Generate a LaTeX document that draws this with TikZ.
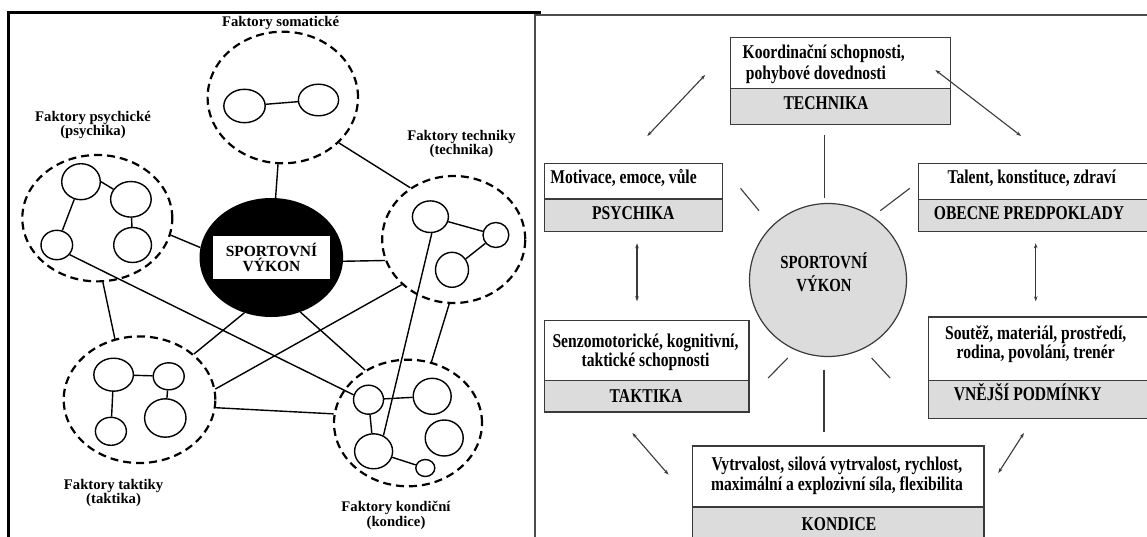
\documentclass[tikz,border=0pt]{standalone}
\usepackage{fontspec}
\setmainfont{Liberation Serif}
\newfontfamily\rfont[FakeStretch=0.8]{Liberation Serif}
\usetikzlibrary{shapes.geometric,arrows.meta}
\definecolor{boxgray}{HTML}{DCDCDC}
\definecolor{lineg}{HTML}{3A3A3A}
\tikzset{
  sz/.style 2 args={minimum width=#1,minimum height=#2},
  dcirc/.style={ellipse,draw,line width=2.2pt,dash pattern=on 8pt off 5pt,inner sep=0pt},
  icirc/.style={ellipse,draw,line width=1.4pt,inner sep=0pt},
  conn/.style={line width=1.4pt},
  llbl/.style={font=\bfseries\fontsize{14.7}{14}\selectfont,align=center,inner sep=0pt},
  rtxt/.style={font=\rfont\bfseries\fontsize{19.5}{20}\selectfont,inner sep=0pt,anchor=base},
  wbox/.style={rectangle,draw=lineg,line width=1.3pt,fill=white,inner sep=0pt,anchor=north west},
  gbox/.style={rectangle,draw=lineg,line width=1.3pt,fill=boxgray,inner sep=0pt,anchor=north west},
  ray/.style={draw=lineg,line width=1.1pt},
  darr/.style={draw=lineg,line width=1.1pt,{Stealth[length=5pt,width=3.5pt]}-{Stealth[length=5pt,width=3.5pt]}}
}
\begin{document}
\begin{tikzpicture}[x=1pt,y=-1pt]
\useasboundingbox (0,0) rectangle (1147,537);
\clip (0,0) rectangle (1147,537);

% ---------------- left panel ----------------
\draw[line width=2.6pt,black] (8.7,545) -- (8.7,12.3) -- (540,12.3) -- (540,16);

% dashed groups
\node[dcirc,sz={150.4pt}{131.6pt}] (som) at (282.8,97.5) {};
\node[dcirc,sz={150pt}{126.4pt}] (psy) at (97.3,218.2) {};
\node[dcirc,sz={143pt}{127pt}] (tec) at (453.7,239.5) {};
\node[dcirc,sz={151.6pt}{126.6pt}] (tak) at (139.5,399.7) {};
\node[dcirc,sz={148pt}{126.6pt}] (kon) at (408,423) {};

% central black ellipse
\node[ellipse,fill=black,inner sep=0pt,sz={143.6pt}{119pt}] (blk) at (271.3,257.5) {};
\node[rectangle,fill=white,inner sep=0pt,sz={117pt}{43pt},font=\bfseries\fontsize{15.5}{15.5}\selectfont,align=center] (sv) at (271.5,257.5) {SPORTOVNÍ\\VÝKON};

% labels
\node[llbl] (lsom) at (280.6,23.3) {Faktory somatické};
\node[llbl] (lpsy) at (93,125) {Faktory psychické\\(psychika)};
\node[llbl] (ltec) at (461.5,144) {Faktory techniky\\(technika)};
\node[llbl] (ltak) at (113.6,493) {Faktory taktiky\\(taktika)};
\node[llbl,font=\bfseries\fontsize{14.7}{15}\selectfont] (lkon) at (396,515.5) {Faktory kondiční\\(kondice)};

% inner circles
\node[icirc,sz={41.4pt}{33.4pt}] (sL) at (244.5,106) {};
\node[icirc,sz={40.2pt}{31.6pt}] (sR) at (318.5,100) {};
\node[icirc,sz={38.6pt}{36pt}] (pTL) at (81,181.7) {};
\node[icirc,sz={40.6pt}{35.6pt}] (pMR) at (130.9,199.3) {};
\node[icirc,sz={31.6pt}{29.4pt}] (pLB) at (56.8,245) {};
\node[icirc,sz={37.8pt}{35pt}] (pRB) at (132.6,245) {};
\node[icirc,sz={36pt}{31.6pt}] (tTL) at (430.4,216.7) {};
\node[icirc,sz={25.8pt}{25pt}] (tR) at (495.9,235) {};
\node[icirc,sz={33pt}{35pt}] (tB) at (452,269.8) {};
\node[icirc,sz={39.6pt}{33pt}] (aTL) at (113.6,374.7) {};
\node[icirc,sz={31pt}{27pt}] (aTR) at (168.7,376.3) {};
\node[icirc,sz={41.4pt}{38.4pt}] (aBR) at (165.3,418) {};
\node[icirc,sz={31pt}{28pt}] (aBL) at (110.9,431.3) {};
\node[icirc,sz={30pt}{29pt}] (kTL) at (368.5,399.7) {};
\node[icirc,sz={38pt}{36pt}] (kTR) at (432.2,396.3) {};
\node[icirc,sz={38pt}{35pt}] (kBL) at (373.6,451.3) {};
\node[icirc,sz={38pt}{36pt}] (kRM) at (444.2,438) {};
\node[icirc,sz={19pt}{17pt}] (kS) at (425.3,468) {};

% inner links
\draw[conn] (sL) -- (sR);
\draw[conn] (pTL.0) -- (pMR.150);
\draw[conn] (pTL) -- (pLB);
\draw[conn] (pMR) -- (pRB);
\draw[conn] (tTL) -- (tR);
\draw[conn] (tR) -- (tB);
\draw[conn] (aTL) -- (aTR);
\draw[conn] (aTL) -- (aBL);
\draw[conn] (aTR) -- (aBR);
\draw[conn] (kTL) -- (kTR);
\draw[conn] (kTL) -- (kBL);
\draw[conn] (kBL) -- (kS);

% group links
\draw[conn] (som) -- (blk);
\draw[conn] (som.321) -- (tec.130);
\draw[conn] (psy.347) -- (blk.172);
\draw[conn] (blk.-3) -- (tec.197);
\draw[conn] (tTL.275) -- (kBL.58);
\draw[conn] (tec.221) -- (tak.8);
\draw[conn] (tec.266) -- (kon.69);
\draw[conn] (blk.244) -- (tak.40);
\draw[conn] (blk.298) -- (kon.129);
\draw[conn] (psy.275) -- (tak.112);
\draw[conn] (tak.354) -- (kon.173);
\draw[conn] (pLB.323) -- (kTL.162);

% ---------------- right panel ----------------
\fill[white] (535,14.7) rectangle (1150,540);
\draw[line width=2pt,gray!60!black] (535,545) -- (535,14.7) -- (1150,14.7);

% boxes
\node[wbox,sz={220pt}{51pt}] (techT) at (730,37) {};
\node[gbox,sz={220pt}{36pt}] (techB) at (730,88) {};
\node[wbox,sz={178pt}{35.5pt}] (psyT) at (544,163) {};
\node[gbox,sz={178pt}{32.5pt}] (psyB) at (544,198.5) {};
\node[wbox,sz={240pt}{36pt}] (obT) at (917.6,163) {};
\node[gbox,sz={240pt}{32pt}] (obB) at (917.6,199) {};
\node[wbox,sz={204.4pt}{60pt}] (takT) at (544,319.7) {};
\node[gbox,sz={204.4pt}{31.6pt}] (takB) at (544,379.7) {};
\node[wbox,sz={230pt}{63.4pt}] (vnT) at (927.5,316.3) {};
\node[gbox,sz={230pt}{38.3pt}] (vnB) at (927.5,379.7) {};
\node[wbox,sz={291.4pt}{61pt}] (koT) at (692,445.3) {};
\node[gbox,sz={291.4pt}{40pt}] (koB) at (692,506.3) {};

% texts
\node[rtxt,anchor=base west] (t1a) at (742.5,58.5) {Koordinační schopnosti,};
\node[rtxt,anchor=base west] (t1b) at (745.7,80) {pohybové dovednosti};
\node[rtxt] (t2) at (826,110) {TECHNIKA};
\node[rtxt] (t3) at (623.5,184) {Motivace, emoce, vůle};
\node[rtxt] (t4) at (633.3,220) {PSYCHIKA};
\node[rtxt] (t5) at (1031.8,184) {Talent, konstituce, zdraví};
\node[rtxt] (t6) at (1029,220) {OBECNE PREDPOKLADY};
\node[rtxt] (t7a) at (645.5,347) {Senzomotorické, kognitivní,};
\node[rtxt] (t7b) at (645.5,366) {taktické schopnosti};
\node[rtxt] (t8) at (646,402) {TAKTIKA};
\node[rtxt] (t9a) at (1035.7,339.5) {Soutěž, materiál, prostředí,};
\node[rtxt] (t9b) at (1035.7,358.5) {rodina, povolání, trenér};
\node[rtxt] (t10) at (1027.8,400.5) {VNĚJŠÍ PODMÍNKY};
\node[rtxt] (t11a) at (837,470) {Vytrvalost, silová vytrvalost, rychlost,};
\node[rtxt] (t11b) at (837,490) {maximální a explozivní síla, flexibilita};
\node[rtxt] (t12) at (839,530) {KONDICE};

% central circle
\node[ellipse,draw=lineg,line width=1.2pt,fill=boxgray,inner sep=0pt,sz={157pt}{153pt}] (rc) at (828,280) {};
\node[rtxt,font=\rfont\bfseries\fontsize{18.5}{20}\selectfont] (rct1) at (824,268) {SPORTOVNÍ};
\node[rtxt,font=\rfont\bfseries\fontsize{18.5}{20}\selectfont] (rct2) at (824,291) {VÝKON};

% rays
\coordinate (r1a) at (824.4,135);   \coordinate (r1b) at (824.4,198.3);
\coordinate (r2a) at (740.5,188.3); \coordinate (r2b) at (759,210.7);
\coordinate (r3a) at (909.8,188.3); \coordinate (r3b) at (880.3,210.7);
\coordinate (r4a) at (787.8,358);   \coordinate (r4b) at (768.1,378);
\coordinate (r5a) at (871.6,358);   \coordinate (r5b) at (890.1,378);
\coordinate (r6a) at (824,369.7);   \coordinate (r6b) at (824,432.3);
\draw[ray] (r1a) -- (r1b);
\draw[ray] (r2a) -- (r2b);
\draw[ray] (r3a) -- (r3b);
\draw[ray] (r4a) -- (r4b);
\draw[ray] (r5a) -- (r5b);
\draw[ray] (r6a) -- (r6b);

% arrows
\coordinate (a1s) at (647.3,136);  \coordinate (a1e) at (705.1,75);
\coordinate (a2s) at (935.4,70);   \coordinate (a2e) at (1021.1,136);
\coordinate (a3s) at (637,243.3);  \coordinate (a3e) at (637,301.3);
\coordinate (a4s) at (1035.7,243.3); \coordinate (a4e) at (1035.7,301.3);
\coordinate (a5s) at (632.3,433);  \coordinate (a5e) at (668.5,474.7);
\coordinate (a6s) at (1023.9,433); \coordinate (a6e) at (998.3,473);
\draw[darr] (a1s) -- (a1e);
\draw[darr] (a2s) -- (a2e);
\draw[darr] (a3s) -- (a3e);
\draw[darr] (a4s) -- (a4e);
\draw[darr] (a5s) -- (a5e);
\draw[darr] (a6s) -- (a6e);
\end{tikzpicture}
\end{document}
